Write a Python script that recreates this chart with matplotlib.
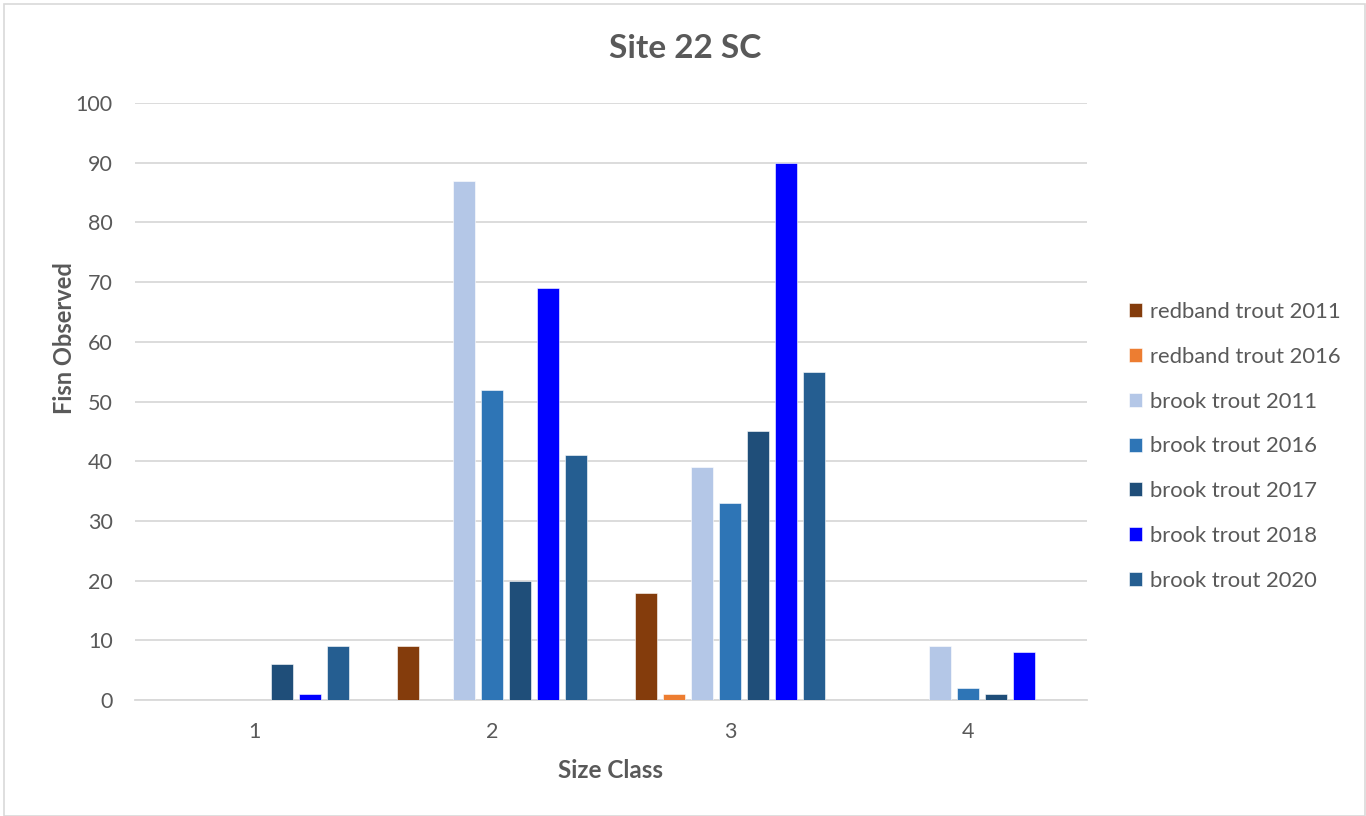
import matplotlib
matplotlib.use("Agg")
import matplotlib.pyplot as plt
import numpy as np
from matplotlib.patches import Rectangle

categories = ["1", "2", "3", "4"]
series_names = ["redband trout 2011", "redband trout 2016", "brook trout 2011",
                "brook trout 2016", "brook trout 2017", "brook trout 2018",
                "brook trout 2020"]
redband_2011 = [0, 9, 18, 0]
redband_2016 = [0, 0, 1, 0]
brook_2011 = [0, 87, 39, 9]
brook_2016 = [0, 52, 33, 2]
brook_2017 = [6, 20, 45, 1]
brook_2018 = [1, 69, 90, 8]
brook_2020 = [9, 41, 55, 0]
series_values = [redband_2011, redband_2016, brook_2011, brook_2016,
                 brook_2017, brook_2018, brook_2020]
colors = ["#843C0C", "#ED7D31", "#B4C7E7", "#2E75B6", "#1F4E79", "#0000FF", "#255E91"]
yticks = [0, 10, 20, 30, 40, 50, 60, 70, 80, 90, 100]

plt.rcParams['font.family'] = ['Lato', 'DejaVu Sans']
txt = "#595959"

W, H = 1366, 816
fig = plt.figure(figsize=(W / 100, H / 100), dpi=100)
fig.patches.append(Rectangle((4 / W, 0), (1365 - 4) / W, (816 - 4) / H,
                             transform=fig.transFigure, fill=False,
                             edgecolor="#D9D9D9", linewidth=1.2))

ax = fig.add_axes([135 / W, (H - 700) / H, (1087 - 135) / W, (700 - 103) / H])
x = np.arange(len(categories))
step = 28 / 238
width = 22 / 238
n = len(series_names)
for i, (name, vals, c) in enumerate(zip(series_names, series_values, colors)):
    ax.bar(x + (i - (n - 1) / 2) * step, vals, width, color=c, label=name,
           edgecolor="white", linewidth=0.4, zorder=3)

ax.set_xlim(-0.5, len(categories) - 0.5)
ax.set_ylim(0, 100)
ax.set_yticks(yticks)
ax.set_xticks(x)
ax.set_xticklabels(categories)
ax.grid(axis="y", color="#D9D9D9", linewidth=1.3, zorder=0)
for s in ["top", "right", "left"]:
    ax.spines[s].set_visible(False)
ax.spines["bottom"].set_color("#D9D9D9")
ax.spines["bottom"].set_linewidth(1.3)
ax.tick_params(axis="both", length=0, labelsize=15.5, labelcolor=txt)
ax.tick_params(axis="y", pad=16)
ax.tick_params(axis="x", pad=16)

fig.text(685 / W, 1 - 48 / H, "Site 22 SC", ha="center", va="center",
         fontsize=24, fontweight="bold", color=txt)
fig.text(611 / W, 1 - 770 / H, "Size Class", ha="center", va="center",
         fontsize=17.5, fontweight="bold", color=txt)
fig.text(65 / W, 1 - 338 / H, "Fisn Observed", ha="center", va="center",
         rotation=90, fontsize=17, fontweight="bold", color=txt)

leg = fig.legend(loc="upper left", bbox_to_anchor=(1118 / W, 1 - 291 / H),
                 frameon=False, fontsize=15.8, labelcolor=txt,
                 handlelength=0.6, handleheight=0.6, handletextpad=0.35,
                 labelspacing=1.13, borderpad=0)

fig.savefig("out.png", dpi=100)
